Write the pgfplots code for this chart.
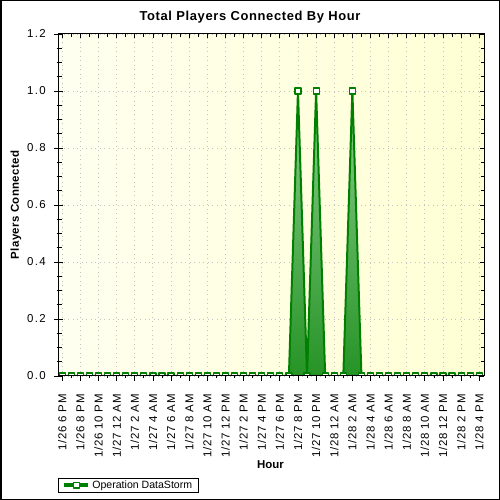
\documentclass[border=0pt]{standalone}
\usepackage{pgfplots}
\pgfplotsset{compat=1.18}
\usepackage{fontspec}
\setmainfont{Liberation Sans}
\definecolor{dgreen}{RGB}{0,128,0}
\definecolor{topg}{RGB}{140,205,140}
\definecolor{botg}{RGB}{38,148,38}
\definecolor{bgl}{RGB}{255,255,240}
\definecolor{bgr}{RGB}{255,255,212}
\definecolor{gridc}{RGB}{195,195,195}
\begin{document}
\begin{tikzpicture}
\path[use as bounding box] (0,0) rectangle (500bp,500bp);
\fill[white] (0,0) rectangle (500bp,500bp);
\pgfplotsset{
 commonax/.style={
  at={(59bp,124bp)}, anchor=south west, scale only axis,
  width=425bp, height=342bp,
  xmin=-0.36, xmax=46.52, ymin=0, ymax=1.2,
  xtick={0,2,...,46}, minor x tick num=1,
  ytick={0,0.2,0.4,0.6,0.8,1.0,1.2}, minor y tick num=3,
 }
}
\begin{axis}[commonax,
  axis background/.style={left color=bgl, right color=bgr},
  axis line style={draw=none},
  tick pos=both, tick align=inside,
  major tick length=4bp, minor tick length=3bp,
  tick style={black, line width=0.8bp},
  xmajorgrids, ymajorgrids,
  grid style={gridc, line width=0.9bp, dash pattern=on 0.9bp off 3.6bp},
  xticklabels={1/26 6 PM, 1/26 8 PM, 1/26 10 PM, 1/27 12 AM, 1/27 2 AM, 1/27 4 AM, 1/27 6 AM, 1/27 8 AM, 1/27 10 AM, 1/27 12 PM, 1/27 2 PM, 1/27 4 PM, 1/27 6 PM, 1/27 8 PM, 1/27 10 PM, 1/28 12 AM, 1/28 2 AM, 1/28 4 AM, 1/28 6 AM, 1/28 8 AM, 1/28 10 AM, 1/28 12 PM, 1/28 2 PM, 1/28 4 PM},
  yticklabels={0.0,0.2,0.4,0.6,0.8,1.0,1.2},
  xticklabel style={rotate=90, anchor=east, inner sep=0pt, font=\fontsize{11.5}{12}\selectfont\addfontfeatures{LetterSpace=6}},
  xticklabel shift=18bp,
  yticklabel style={anchor=east, inner sep=0pt, font=\fontsize{11.5}{12}\selectfont\addfontfeatures{LetterSpace=12}},
  yticklabel shift=13bp,
  clip marker paths=true,
  legend style={at={(-0.0024,-0.2982)}, anchor=north west, draw=black, line width=0.8bp,
    font=\fontsize{10.6}{11}\selectfont, inner xsep=4bp, inner ysep=0.3bp},
  legend cell align=left,
  legend image code/.code={
    \draw[dgreen, line width=4bp] (0bp,0bp) -- (24bp,0bp);
    \draw[dgreen, line width=1.2bp] plot[mark=square*, mark size=2.8bp, mark options={fill=white, draw=dgreen}] coordinates {(12bp,0bp)};
  },
]
\addplot[draw=dgreen, line width=2bp, line join=round, top color=topg, bottom color=botg,
  mark=square*, mark size=3bp, mark options={fill=white, draw=dgreen, line width=1.2bp, solid}]
  table {
x y
0 0
1 0
2 0
3 0
4 0
5 0
6 0
7 0
8 0
9 0
10 0
11 0
12 0
13 0
14 0
15 0
16 0
17 0
18 0
19 0
20 0
21 0
22 0
23 0
24 0
25 0
26 1
27 0
28 1
29 0
30 0
31 0
32 1
33 0
34 0
35 0
36 0
37 0
38 0
39 0
40 0
41 0
42 0
43 0
44 0
45 0
46 0
} \closedcycle;
\addlegendentry{Operation DataStorm}
\end{axis}
\begin{axis}[commonax, tick pos=left, tick align=outside,
  major tick length=5bp, minor tick length=2.5bp,
  tick style={black, line width=0.8bp},
  xticklabels={}, yticklabels={},
  axis line style={black, line width=1bp}]
\end{axis}
\node[font=\bfseries\fontsize{13}{14}\selectfont\addfontfeatures{LetterSpace=5}] at (250bp,483bp) {Total Players Connected By Hour};
\node[font=\bfseries\fontsize{11.5}{13}\selectfont\addfontfeatures{LetterSpace=3}, rotate=90] at (16bp,295bp) {Players Connected};
\node[font=\bfseries\fontsize{11.5}{13}\selectfont] at (270.5bp,35.5bp) {Hour};
\draw[line width=1.5bp] (0.75bp,0.75bp) rectangle (499.25bp,499.25bp);
\end{tikzpicture}
\end{document}
